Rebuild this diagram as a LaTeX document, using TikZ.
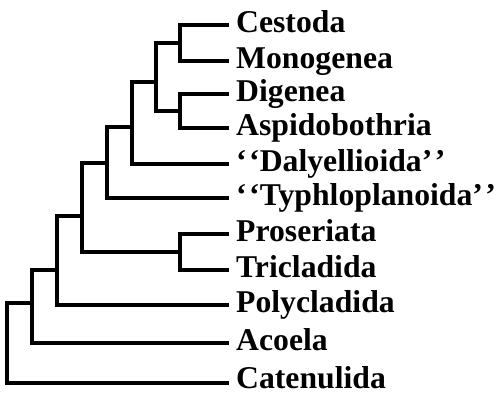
\documentclass[tikz,border=0pt]{standalone}
\usepackage{fontspec}
\setmainfont{Liberation Serif}
\newcommand{\oq}{‘\kern2.5pt‘}
\newcommand{\cq}{’\kern2.5pt’}
\begin{document}
\begin{tikzpicture}[x=1pt,y=-1pt,
  branch/.style={line width=3.4pt,line join=miter,line cap=butt},
  taxon/.style={anchor=base west,inner sep=0pt,font=\fontsize{31.7}{31.7}\selectfont\bfseries}]
\useasboundingbox (0,0) rectangle (496,392);
% leaf tips
\foreach \n/\y in {ces/25,mon/61,dig/94,asp/128,dal/164,typ/198,pro/234,tri/270,pol/305,aco/343,cat/383}{
  \coordinate (\n) at (229,\y);
}
% labels
\node[taxon] (lces) at (236,25+7) {Cestoda};
\node[taxon] (lmon) at (236,61+7) {Monogenea};
\node[taxon] (ldig) at (236,94+7) {Digenea};
\node[taxon] (lasp) at (236,128+7) {Aspidobothria};
\node[taxon] (ldal) at (236,164+7) {\oq Dalyellioida\cq};
\node[taxon] (ltyp) at (236,198+7) {\oq Typhloplanoida\cq};
\node[taxon] (lpro) at (236,234+7) {Proseriata};
\node[taxon] (ltri) at (236,270+7) {Tricladida};
\node[taxon] (lpol) at (236,305+7) {Polycladida};
\node[taxon] (laco) at (236,343+7) {Acoela};
\node[taxon] (lcat) at (236,383+5) {Catenulida};
% internal nodes
\coordinate (n1) at (180,43);
\coordinate (n2) at (180,111);
\coordinate (n3) at (156,82);
\coordinate (n4) at (132,127);
\coordinate (n5) at (107,163);
\coordinate (n6) at (180,252);
\coordinate (n7) at (82,216);
\coordinate (n8) at (57,270);
\coordinate (n9) at (32,303);
\coordinate (root) at (7,343);
% branches
\draw[branch] (n1) |- (ces) (n1) |- (mon);
\draw[branch] (n2) |- (dig) (n2) |- (asp);
\draw[branch] (n3) |- (n1) (n3) |- (n2);
\draw[branch] (n4) |- (n3) (n4) |- (dal);
\draw[branch] (n5) |- (n4) (n5) |- (typ);
\draw[branch] (n6) |- (pro) (n6) |- (tri);
\draw[branch] (n7) |- (n5) (n7) |- (n6);
\draw[branch] (n8) |- (n7) (n8) |- (pol);
\draw[branch] (n9) |- (n8) (n9) |- (aco);
\draw[branch] (root) |- (n9) (root) |- (cat);
\end{tikzpicture}
\end{document}
